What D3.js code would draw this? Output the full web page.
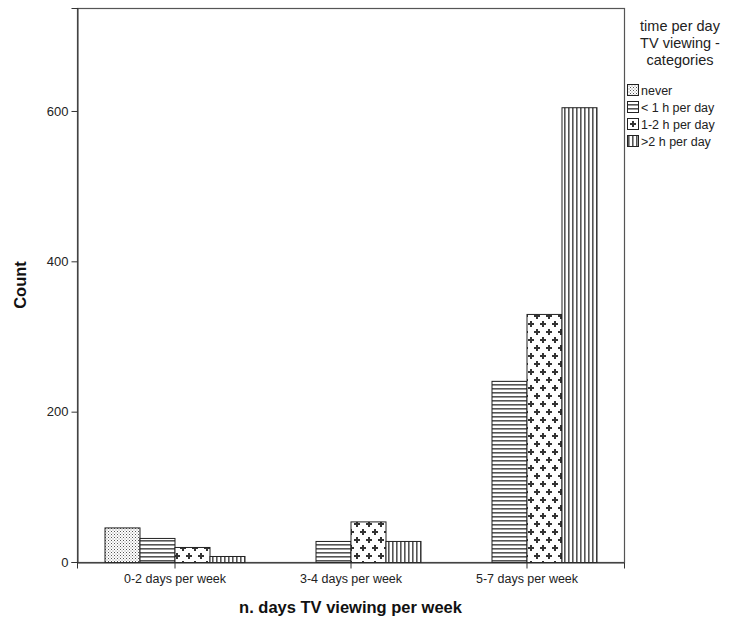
<!DOCTYPE html>
<html><head><meta charset="utf-8">
<script src="https://cdnjs.cloudflare.com/ajax/libs/d3/7.8.5/d3.min.js"></script>
<style>body{margin:0;background:#fff}svg{display:block}</style>
</head><body>
<script>
const categories = ["0-2 days per week", "3-4 days per week", "5-7 days per week"];
const seriesNames = ["never", "< 1 h per day", "1-2 h per day", ">2 h per day"];
const never = [46, 0, 0];
const lessThan1h = [32, 28, 241];
const oneToTwoH = [20, 54, 330];
const moreThan2h = [8, 28, 605];
const yTicks = [0, 200, 400, 600];
const legendTitle = ["time per day", "TV viewing -", "categories"];
const xTitle = "n. days TV viewing per week";
const yTitle = "Count";

const series = [never, lessThan1h, oneToTwoH, moreThan2h];
const W = 735, H = 628;
const m = {l: 77, r: 624, t: 8, b: 562};
const svg = d3.select("body").append("svg").attr("width", W).attr("height", H);
const font = "Arial, 'Liberation Sans', sans-serif";

// patterns
const defs = svg.append("defs");
const pids = ["p0", "p1", "p2", "p3"];
// dotted
let p = defs.append("pattern").attr("id", "p0").attr("patternUnits", "userSpaceOnUse").attr("width", 3).attr("height", 3);
p.append("rect").attr("width", 3).attr("height", 3).attr("fill", "#fff");
p.append("rect").attr("x", 0).attr("y", 0).attr("width", 1).attr("height", 1).attr("fill", "#555");
p.append("rect").attr("x", 1.5).attr("y", 1.5).attr("width", 1).attr("height", 1).attr("fill", "#888");
// horizontal lines
p = defs.append("pattern").attr("id", "p1").attr("patternUnits", "userSpaceOnUse").attr("width", 4).attr("height", 4);
p.append("rect").attr("width", 4).attr("height", 4).attr("fill", "#fff");
p.append("rect").attr("x", 0).attr("y", 0).attr("width", 4).attr("height", 1.6).attr("fill", "#555");
// crosses
p = defs.append("pattern").attr("id", "p2").attr("patternUnits", "userSpaceOnUse").attr("width", 12).attr("height", 16);
p.append("rect").attr("width", 12).attr("height", 16).attr("fill", "#fff");
[[3, 4], [9, 12]].forEach(([cx, cy]) => {
  p.append("rect").attr("x", cx - 3).attr("y", cy - 1).attr("width", 6).attr("height", 2).attr("fill", "#333");
  p.append("rect").attr("x", cx - 1).attr("y", cy - 3).attr("width", 2).attr("height", 6).attr("fill", "#333");
});
// vertical lines
p = defs.append("pattern").attr("id", "p3").attr("patternUnits", "userSpaceOnUse").attr("width", 4).attr("height", 4);
p.append("rect").attr("width", 4).attr("height", 4).attr("fill", "#fff");
p.append("rect").attr("x", 0).attr("y", 0).attr("width", 1.6).attr("height", 4).attr("fill", "#555");

const x = d3.scalePoint().domain(categories).range([m.l, m.r]).padding(0.554);
const y = d3.scaleLinear().domain([0, 737]).range([m.b, m.t]);
const bw = 35;

// frame
svg.append("rect").attr("x", m.l + 0.5).attr("y", m.t + 0.5).attr("width", m.r - m.l).attr("height", m.b - m.t)
  .attr("fill", "none").attr("stroke", "#555").attr("stroke-width", 1.2);

// bars
series.forEach((vals, si) => {
  svg.append("g").selectAll("rect").data(vals.map((v, ci) => ({v, c: categories[ci]})).filter(d => d.v > 0))
    .join("rect")
    .attr("x", d => x(d.c) + (si - 2) * bw + 0.5)
    .attr("y", d => y(d.v) + 0.5)
    .attr("width", bw)
    .attr("height", d => y(0) - y(d.v))
    .attr("fill", `url(#${pids[si]})`)
    .attr("stroke", "#222").attr("stroke-width", 1);
});

// y axis
const ya = svg.append("g").attr("transform", `translate(${m.l + 0.5},0)`)
  .call(d3.axisLeft(y).tickValues(yTicks).tickSize(6).tickPadding(3).tickFormat(d3.format("d")));
ya.select(".domain").attr("stroke", "#333");
ya.selectAll(".tick line").attr("stroke", "#333");
ya.selectAll("text").attr("font-family", font).attr("font-size", 13).attr("fill", "#222");

// x axis
const xa = svg.append("g").attr("transform", `translate(0,${m.b + 0.5})`)
  .call(d3.axisBottom(x).tickSize(6).tickPadding(6));
xa.select(".domain").attr("stroke", "#333");
xa.selectAll(".tick line").attr("stroke", "#333");
xa.selectAll("text").attr("font-family", font).attr("font-size", 12.5).attr("fill", "#222");

// titles
svg.append("text").attr("x", (m.l + m.r) / 2 - 0).attr("y", 613).attr("text-anchor", "middle")
  .attr("font-family", font).attr("font-weight", "bold").attr("font-size", 16.5).attr("fill", "#111").text(xTitle);
svg.append("text").attr("transform", "translate(26,285) rotate(-90)").attr("text-anchor", "middle")
  .attr("font-family", font).attr("font-weight", "bold").attr("font-size", 16.5).attr("fill", "#111").text(yTitle);

// legend
legendTitle.forEach((t, i) => {
  svg.append("text").attr("x", 680).attr("y", 31 + i * 17).attr("text-anchor", "middle")
    .attr("font-family", font).attr("font-size", 14.5).attr("fill", "#222").text(t);
});
seriesNames.forEach((n, i) => {
  const yy = 84 + i * 17;
  svg.append("rect").attr("x", 627.5).attr("y", yy + 0.5).attr("width", 11).attr("height", 11)
    .attr("fill", `url(#${pids[i]})`).attr("stroke", "#222");
  svg.append("text").attr("x", 641).attr("y", yy + 10.5)
    .attr("font-family", font).attr("font-size", 12.5).attr("fill", "#222").text(n);
});
</script>
</body></html>
